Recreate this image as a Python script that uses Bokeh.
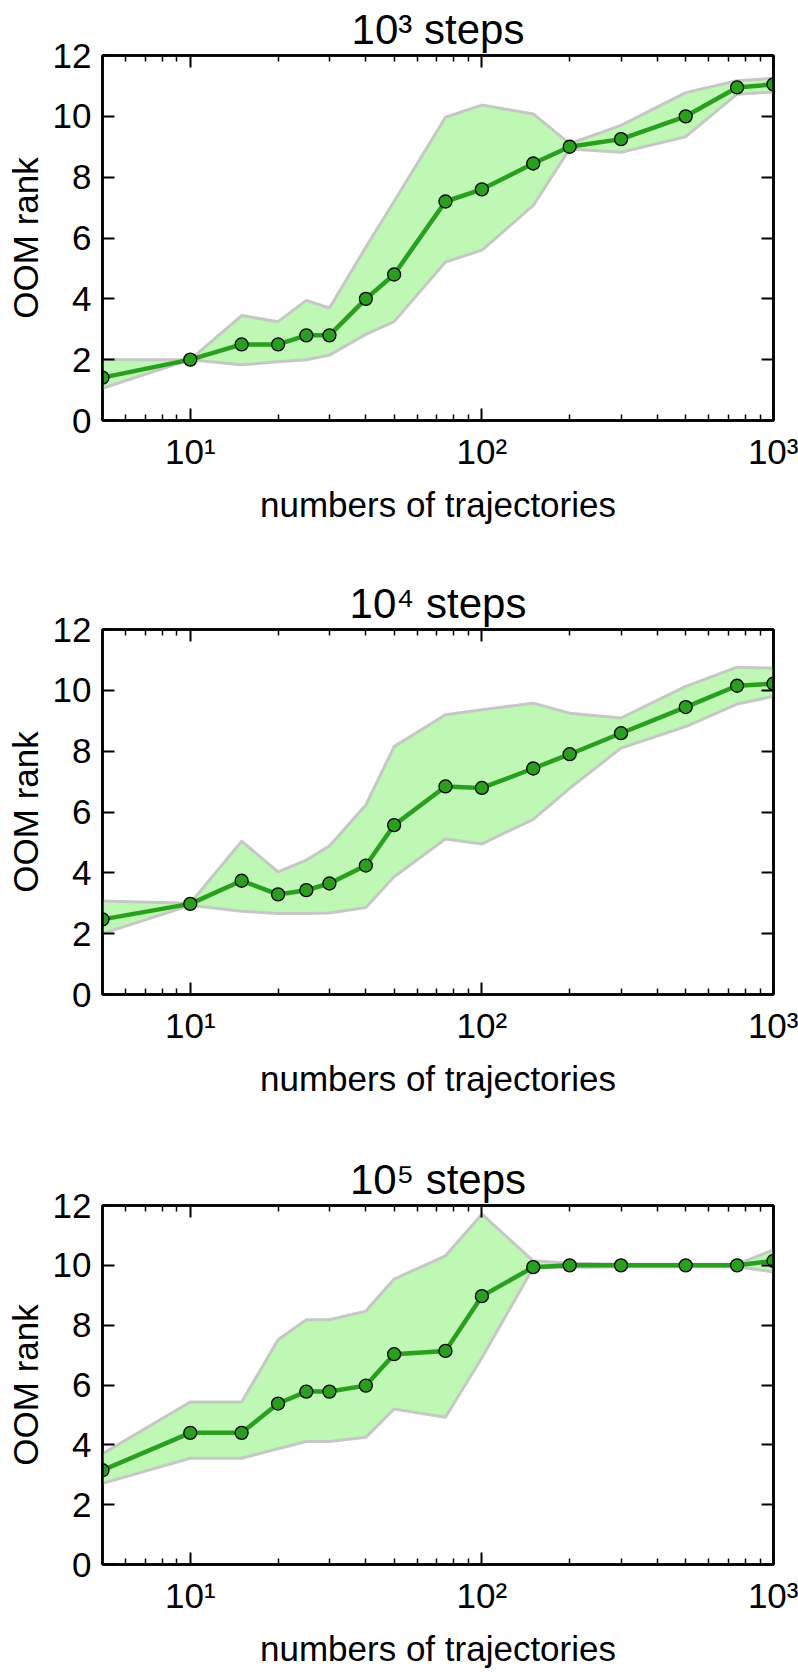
from bokeh.plotting import figure
from bokeh.models import Range1d, FixedTicker, LinearAxis, LogAxis
from bokeh.layouts import column
from bokeh.embed import file_html
from bokeh.resources import INLINE

# ---------------- data ----------------
trajectories = [5, 10, 15, 20, 25, 30, 40, 50, 75, 100, 150, 200, 300, 500, 750, 1000]

rank_1e3 = [1.41, 2.0, 2.5, 2.5, 2.8, 2.8, 4.0, 4.8, 7.2, 7.6, 8.45, 9.0, 9.25, 10.0, 10.95, 11.05]
upper_1e3 = [2.0, 2.0, 3.45, 3.25, 3.95, 3.7, 5.7, 7.2, 9.97, 10.37, 10.08, 9.1, 9.7, 10.78, 11.17, 11.25]
lower_1e3 = [1.06, 2.0, 1.83, 1.93, 2.0, 2.15, 2.83, 3.25, 5.21, 5.6, 7.07, 8.93, 8.82, 9.33, 10.73, 10.8]

rank_1e4 = [2.47, 2.98, 3.74, 3.29, 3.43, 3.65, 4.24, 5.57, 6.84, 6.79, 7.43, 7.9, 8.59, 9.45, 10.15, 10.22]
upper_1e4 = [3.07, 3.0, 5.04, 4.03, 4.42, 4.88, 6.23, 8.15, 9.2, 9.36, 9.58, 9.25, 9.09, 10.13, 10.76, 10.73]
lower_1e4 = [2.0, 2.93, 2.74, 2.66, 2.66, 2.68, 2.86, 3.87, 5.11, 4.95, 5.76, 6.78, 8.1, 8.81, 9.55, 9.8]

rank_1e5 = [3.15, 4.4, 4.4, 5.38, 5.78, 5.78, 5.98, 7.03, 7.14, 8.97, 9.94, 10.0, 10.0, 10.0, 10.0, 10.15]
upper_1e5 = [3.7, 5.43, 5.43, 7.51, 8.18, 8.18, 8.47, 9.54, 10.32, 11.71, 10.15, 10.07, 10.04, 10.04, 10.04, 10.52]
lower_1e5 = [2.71, 3.55, 3.55, 3.87, 4.11, 4.11, 4.25, 5.2, 4.92, 6.91, 9.92, 9.93, 9.95, 9.95, 9.95, 9.78]

titles = ["10\u00b3 steps", "10\u2074 steps", "10\u2075 steps"]

x_tick_values = [10, 100, 1000]
x_tick_labels = ["10\u00b9", "10\u00b2", "10\u00b3"]
x_minor_values = [6, 7, 8, 9, 20, 30, 40, 50, 60, 70, 80, 90, 200, 300, 400, 500, 600, 700, 800, 900]
y_tick_values = [0, 2, 4, 6, 8, 10, 12]

x_label = "numbers of trajectories"
y_label = "OOM rank"

# ---------------- style ----------------
LINE_GREEN = "#2a9e1e"
FILL_GREEN = "#bff7b5"
EDGE_GRAY = "#c4c9c4"
FONT = "Liberation Sans"
FS = "35px"
W = 798


def style_axis(ax, labels=True):
    ax.axis_line_color = "black"
    ax.axis_line_width = 2.5
    ax.major_tick_in = 12
    ax.major_tick_out = 0
    ax.minor_tick_in = 6
    ax.minor_tick_out = 0
    ax.major_tick_line_width = 2
    ax.minor_tick_line_width = 1.5
    ax.major_tick_line_color = "black"
    ax.minor_tick_line_color = "black"
    ax.major_label_text_font = FONT
    ax.major_label_text_font_size = FS if labels else "0px"
    ax.major_label_text_color = "black"
    ax.axis_label_text_font = FONT
    ax.axis_label_text_font_size = FS
    ax.axis_label_text_font_style = "normal"
    ax.axis_label_text_color = "black"


def make_panel(rank, upper, lower, title, height, border_bottom):
    p = figure(width=W, height=height, x_axis_type="log",
               x_range=Range1d(5, 1000), y_range=Range1d(0, 12),
               output_backend="svg", toolbar_location=None, title=title,
               min_border_left=102, min_border_right=25,
               min_border_top=55, min_border_bottom=border_bottom)
    p.grid.visible = False
    p.outline_line_color = "black"
    p.outline_line_width = 2.5

    p.title.text_font = FONT
    p.title.text_font_size = "42px"
    p.title.text_font_style = "normal"
    p.title.text_color = "black"
    p.title.align = "center"
    p.title.standoff = 5

    xt = FixedTicker(ticks=x_tick_values, minor_ticks=x_minor_values)
    yt = FixedTicker(ticks=y_tick_values)
    overrides = {v: s for v, s in zip(x_tick_values, x_tick_labels)}

    xa = p.xaxis[0]
    xa.ticker = xt
    xa.major_label_overrides = overrides
    xa.axis_label = x_label
    style_axis(xa)
    xa.major_label_standoff = 11
    xa.axis_label_standoff = 11

    ya = p.yaxis[0]
    ya.ticker = yt
    ya.axis_label = y_label
    style_axis(ya)
    ya.major_label_standoff = 11
    ya.axis_label_standoff = 5

    top = LogAxis(ticker=xt, major_label_standoff=0)
    style_axis(top, labels=False)
    top.major_label_overrides = {v: "" for v in x_tick_values}
    p.add_layout(top, "above")
    right = LinearAxis(ticker=yt, major_label_standoff=0)
    style_axis(right, labels=False)
    right.major_label_overrides = {v: "" for v in y_tick_values}
    p.add_layout(right, "right")

    p.varea(x=trajectories, y1=lower, y2=upper, fill_color=FILL_GREEN, fill_alpha=1.0)
    p.line(x=trajectories, y=upper, line_color=EDGE_GRAY, line_width=3)
    p.line(x=trajectories, y=lower, line_color=EDGE_GRAY, line_width=3)
    p.line(x=trajectories, y=rank, line_color=LINE_GREEN, line_width=4.5)
    p.scatter(x=trajectories, y=rank, size=13, fill_color=LINE_GREEN,
              line_color="black", line_width=1.3)
    return p


p1 = make_panel(rank_1e3, upper_1e3, lower_1e3, titles[0], 574, 154)
p2 = make_panel(rank_1e4, upper_1e4, lower_1e4, titles[1], 576, 156)
p3 = make_panel(rank_1e5, upper_1e5, lower_1e5, titles[2], 520, 100)

layout = column(p1, p2, p3, spacing=0)
open("out.html", "w").write(file_html(layout, INLINE))
